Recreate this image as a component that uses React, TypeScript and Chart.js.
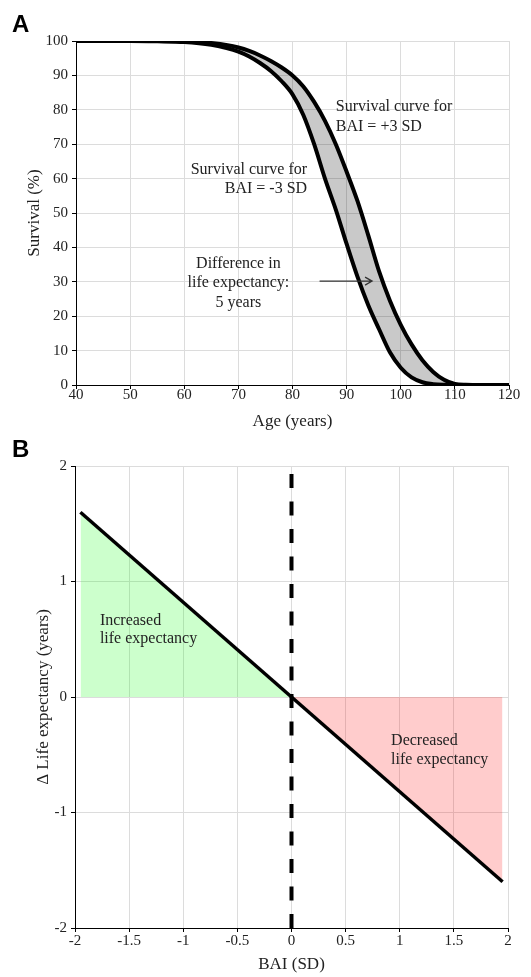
import React, { useEffect, useRef } from 'react';
import { Chart, registerables } from 'chart.js';

Chart.register(...registerables);

// ---------- Data: panel A (survival curves) ----------
const ages = [40, 50, 55, 60, 65, 68, 70, 72, 74, 76, 78, 80, 82, 84, 86, 88, 90, 92, 94, 96, 98, 100, 102, 104, 106, 108, 110, 112, 115, 120];
const survivalMinus3SD = [100, 100, 99.9, 99.7, 98.9, 97.9, 96.9, 95.5, 93.6, 91.3, 88.3, 84.5, 78.5, 70, 60, 51, 41, 31.5, 23.2, 16.2, 9.5, 5, 2.2, 0.8, 0.25, 0.05, 0, 0, 0, 0];
const survivalPlus3SD = [100, 100, 100, 99.9, 99.4, 98.8, 98.1, 97.1, 95.8, 94.2, 92.3, 90, 86.8, 82.3, 76.8, 70, 62, 53.5, 43.5, 33, 24.5, 17.5, 11.8, 7.2, 3.8, 1.5, 0.3, 0.05, 0, 0];

// ---------- Data: panel B (delta life expectancy) ----------
const baiSD = [-1.95, 0, 1.95];
const deltaLifeExpectancy = [1.6, 0, -1.6];
const referenceLineX = [0, 0];
const referenceLineY = [-2, 2];

// ---------- Annotations (data coordinates) ----------
const annotationsA = [
  { text: 'Survival curve for', x: 88.0, y: 80.9, align: 'left' },
  { text: 'BAI = +3 SD', x: 88.0, y: 75.1, align: 'left' },
  { text: 'Survival curve for', x: 82.7, y: 62.5, align: 'right' },
  { text: 'BAI = -3 SD', x: 82.7, y: 56.9, align: 'right' },
  { text: 'Difference in', x: 70.0, y: 35.3, align: 'center' },
  { text: 'life expectancy:', x: 70.0, y: 29.7, align: 'center' },
  { text: '5 years', x: 70.0, y: 24.0, align: 'center' },
];
const arrowA = { x1: 85.0, x2: 94.7, y: 30.2 };
const annotationsB = [
  { text: 'Increased', x: -1.77, y: 0.664, align: 'left' },
  { text: 'life expectancy', x: -1.77, y: 0.506, align: 'left' },
  { text: 'Decreased', x: 0.92, y: -0.376, align: 'left' },
  { text: 'life expectancy', x: 0.92, y: -0.54, align: 'left' },
];

const SERIF = "'Liberation Serif', 'Times New Roman', Times, serif";
const SANS = "'Liberation Sans', Arial, Helvetica, sans-serif";
const TEXT = '#222';
const GRID = '#dcdcdc';

function makeAnnotationPlugin(id: string, letter: string, letterBaseline: number, notes: any[], arrow?: any) {
  return {
    id,
    afterDatasetsDraw(chart: any) {
      const ctx = chart.ctx;
      const xs = chart.scales.x;
      const ys = chart.scales.y;
      ctx.save();
      ctx.fillStyle = TEXT;
      ctx.font = `16px ${SERIF}`;
      ctx.textBaseline = 'middle';
      notes.forEach((n) => {
        ctx.textAlign = n.align;
        ctx.fillText(n.text, xs.getPixelForValue(n.x), ys.getPixelForValue(n.y));
      });
      if (arrow) {
        const x1 = xs.getPixelForValue(arrow.x1);
        const x2 = xs.getPixelForValue(arrow.x2);
        const y = ys.getPixelForValue(arrow.y);
        ctx.strokeStyle = '#333';
        ctx.lineWidth = 1.3;
        ctx.beginPath();
        ctx.moveTo(x1, y);
        ctx.lineTo(x2, y);
        ctx.moveTo(x2 - 7, y - 4);
        ctx.lineTo(x2, y);
        ctx.lineTo(x2 - 7, y + 4);
        ctx.stroke();
      }
      ctx.font = `bold 24px ${SANS}`;
      ctx.fillStyle = '#000';
      ctx.textAlign = 'left';
      ctx.textBaseline = 'alphabetic';
      ctx.fillText(letter, 12, letterBaseline);
      ctx.restore();
    },
  };
}

const tickFont = { family: SERIF, size: 15, lineHeight: 1 };
const titleFont = { family: SERIF, size: 17 };

export default function App() {
  const refA = useRef<HTMLCanvasElement>(null);
  const refB = useRef<HTMLCanvasElement>(null);

  useEffect(() => {
    const chartA = new Chart(refA.current as HTMLCanvasElement, {
      type: 'line',
      data: {
        datasets: [
          {
            data: ages.map((a, i) => ({ x: a, y: survivalMinus3SD[i] })),
            borderColor: '#000',
            borderWidth: 4,
            pointRadius: 0,
            cubicInterpolationMode: 'monotone',
            fill: false,
          },
          {
            data: ages.map((a, i) => ({ x: a, y: survivalPlus3SD[i] })),
            borderColor: '#000',
            borderWidth: 4,
            pointRadius: 0,
            cubicInterpolationMode: 'monotone',
            fill: '-1',
            backgroundColor: 'rgba(0,0,0,0.21)',
          },
        ],
      } as any,
      options: {
        responsive: false,
        animation: false,
        events: [],
        layout: { padding: { top: 41, right: 22, left: 0, bottom: 0 } },
        plugins: { legend: { display: false }, tooltip: { enabled: false } },
        scales: {
          x: {
            type: 'linear',
            min: 40,
            max: 120,
            afterFit: (s: any) => { s.height = 55; },
            ticks: { stepSize: 10, color: TEXT, font: tickFont, padding: -1, maxRotation: 0, autoSkip: false },
            grid: { color: GRID, lineWidth: 1, tickColor: '#000', tickLength: 4 },
            border: { display: true, color: '#000', width: 1 },
            title: { display: true, text: 'Age (years)', color: TEXT, font: titleFont, padding: { top: 0, bottom: 8 } },
          },
          y: {
            type: 'linear',
            min: 0,
            max: 100,
            afterFit: (s: any) => { s.width = 76; },
            ticks: { stepSize: 10, color: TEXT, font: tickFont, padding: 4 },
            grid: { color: GRID, lineWidth: 1, tickColor: '#000', tickLength: 4 },
            border: { display: true, color: '#000', width: 1 },
            title: { display: true, text: 'Survival (%)', color: TEXT, font: titleFont, padding: { top: 24, bottom: 0 } },
          },
        },
      } as any,
      plugins: [makeAnnotationPlugin('annotA', 'A', 32, annotationsA, arrowA)],
    });

    const chartB = new Chart(refB.current as HTMLCanvasElement, {
      type: 'line',
      data: {
        datasets: [
          {
            data: baiSD.map((b, i) => ({ x: b, y: deltaLifeExpectancy[i] })),
            borderColor: '#000',
            borderWidth: 3.5,
            pointRadius: 0,
            tension: 0,
            fill: { target: 'origin', above: 'rgba(0,255,0,0.2)', below: 'rgba(255,0,0,0.2)' },
          },
          {
            data: referenceLineX.map((x, i) => ({ x, y: referenceLineY[i] })),
            borderColor: '#000',
            borderWidth: 4,
            borderDash: [14, 13.5],
            pointRadius: 0,
            fill: false,
          },
        ],
      } as any,
      options: {
        responsive: false,
        animation: false,
        events: [],
        layout: { padding: { top: 32, right: 23, left: 0, bottom: 0 } },
        plugins: { legend: { display: false }, tooltip: { enabled: false } },
        scales: {
          x: {
            type: 'linear',
            min: -2,
            max: 2,
            afterFit: (s: any) => { s.height = 49; },
            ticks: {
              stepSize: 0.5,
              color: TEXT,
              font: tickFont,
              padding: 2,
              maxRotation: 0,
              autoSkip: false,
              callback: (v: any) => `${v}`,
            },
            grid: { color: GRID, lineWidth: 1, tickColor: '#000', tickLength: 4 },
            border: { display: true, color: '#000', width: 1 },
            title: { display: true, text: 'BAI (SD)', color: TEXT, font: titleFont, padding: { top: 0, bottom: 2 } },
          },
          y: {
            type: 'linear',
            min: -2,
            max: 2,
            afterFit: (s: any) => { s.width = 75; },
            ticks: { stepSize: 1, color: TEXT, font: tickFont, padding: 4, callback: (v: any) => `${v}` },
            grid: { color: GRID, lineWidth: 1, tickColor: '#000', tickLength: 4 },
            border: { display: true, color: '#000', width: 1 },
            title: { display: true, text: 'Δ Life expectancy (years)', color: TEXT, font: titleFont, padding: { top: 33, bottom: 0 } },
          },
        },
      } as any,
      plugins: [makeAnnotationPlugin('annotB', 'B', 23, annotationsB)],
    });

    return () => {
      chartA.destroy();
      chartB.destroy();
    };
  }, []);

  return (
    <div style={{ position: 'absolute', left: 0, top: 0, width: 531, height: 977, background: '#fff', overflow: 'hidden' }}>
      <canvas
        ref={refA}
        width={531}
        height={440}
        style={{ position: 'absolute', left: 0, top: 0, width: 531, height: 440 }}
      />
      <canvas
        ref={refB}
        width={531}
        height={543}
        style={{ position: 'absolute', left: 0, top: 434, width: 531, height: 543 }}
      />
    </div>
  );
}
